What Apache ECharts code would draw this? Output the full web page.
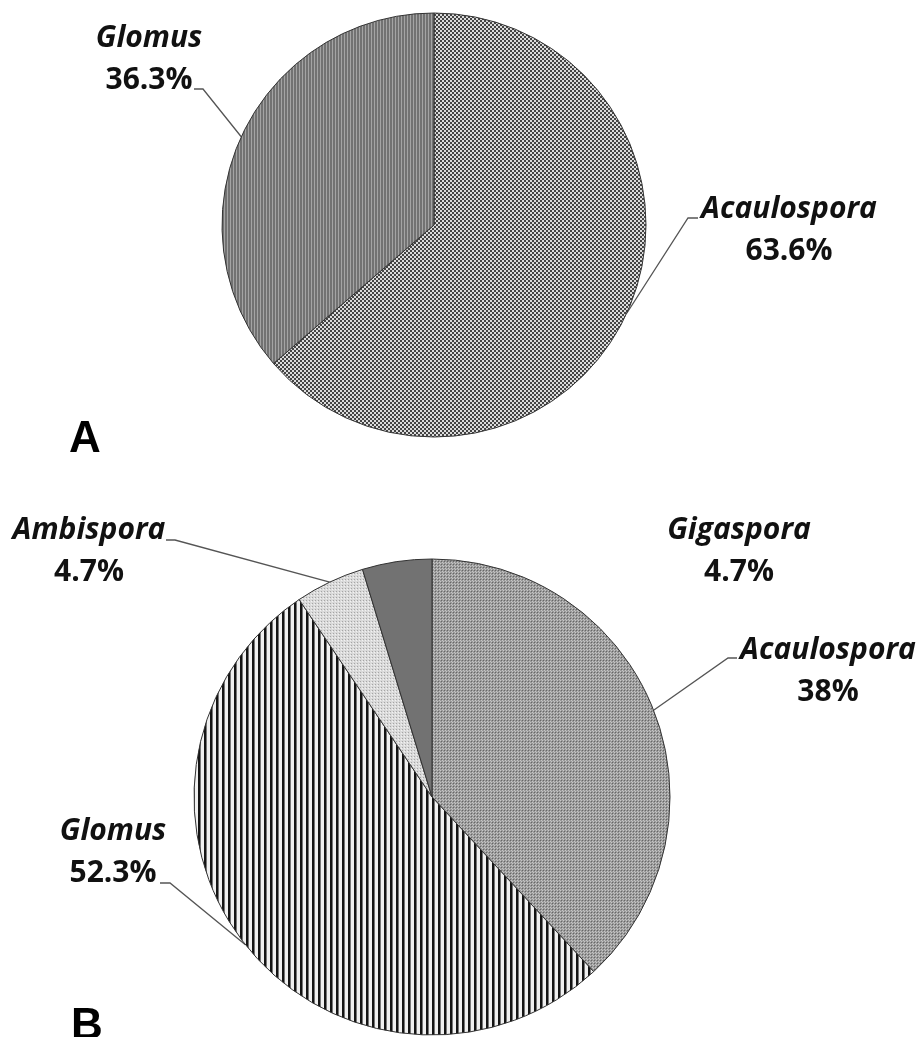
<!DOCTYPE html>
<html><head><meta charset="utf-8">
<script src="https://cdn.jsdelivr.net/npm/echarts@6/dist/echarts.min.js"></script>
<style>html,body{margin:0;padding:0;background:#fff}#c{width:921px;height:1037px}</style>
</head><body><div id="c"></div>
<script>
// ---- data ----
const panelLetters = ['A', 'B'];
const namesA = ['Acaulospora', 'Glomus'];
const valuesA = [63.6, 36.3];
const namesB = ['Acaulospora', 'Glomus', 'Ambispora', 'Gigaspora'];
const valuesB = [38, 52.3, 4.7, 4.7];

// ---- layout (positions only) ----
const pieCenters = [[434, 225], [432, 797]];
const pieRadii = [212, 238];
const labelCenters = [
  [[789, 230], [149, 59]],
  [[828, 671], [113, 852], [89, 551], [739, 551]]
];
const leaderStubs = [
  [[[688, 218], [698, 218]], [[203, 89], [194, 89]]],
  [[[728, 658], [737, 658]], [[170, 883], [160, 883]], [[175, 540], [166, 540]], null]
];

// ---- patterns ----
function makePattern(w, h, draw) {
  const c = document.createElement('canvas');
  c.width = w; c.height = h;
  const g = c.getContext('2d');
  draw(g);
  return { image: c, repeat: 'repeat' };
}
const patA_Acaul = makePattern(4, 4, g => {
  g.fillStyle = '#dcdcdc'; g.fillRect(0, 0, 4, 4);
  g.fillStyle = '#444'; g.fillRect(0, 0, 2, 2); g.fillRect(2, 2, 2, 2);
});
const patA_Glomus = makePattern(3, 3, g => {
  g.fillStyle = '#727272'; g.fillRect(0, 0, 3, 3);
  g.fillStyle = '#a4a4a4'; g.fillRect(2, 0, 1, 3);
});
const patB_Acaul = makePattern(3, 3, g => {
  g.fillStyle = '#9a9a9a'; g.fillRect(0, 0, 3, 3);
  g.fillStyle = '#666'; g.fillRect(0, 0, 1, 1);
  g.fillStyle = '#c6c6c6'; g.fillRect(1, 1, 1, 1); g.fillRect(2, 2, 1, 1);
});
const patB_Glomus = makePattern(6, 6, g => {
  g.fillStyle = '#f0f0f0'; g.fillRect(0, 0, 6, 6);
  g.fillStyle = '#141414'; g.fillRect(0, 0, 2, 6);
  g.fillStyle = '#777'; g.fillRect(2, 0, 1, 6);
});
const patB_Ambis = makePattern(3, 3, g => {
  g.fillStyle = '#dadada'; g.fillRect(0, 0, 3, 3);
  g.fillStyle = '#a5a5a5'; g.fillRect(0, 0, 1, 1);
  g.fillStyle = '#f2f2f2'; g.fillRect(2, 1, 1, 1);
});
const solidGiga = '#727272';

const fills = [[patA_Acaul, patA_Glomus], [patB_Acaul, patB_Glomus, patB_Ambis, solidGiga]];
const allValues = [valuesA, valuesB];
const allNames = [namesA, namesB];

function arcPoint(s, i) {
  const vals = allValues[s];
  const total = vals.reduce((a, b) => a + b, 0);
  let before = 0;
  for (let k = 0; k < i; k++) before += vals[k];
  const theta = (before + vals[i] / 2) / total * Math.PI * 2;
  const [cx, cy] = pieCenters[s];
  const r = pieRadii[s];
  return [cx + r * Math.sin(theta), cy - r * Math.cos(theta)];
}

const labelRich = {
  n: { fontFamily: 'Open Sans', fontStyle: 'italic', fontWeight: 'bold', fontSize: 30, color: '#111', lineHeight: 42, align: 'center' },
  p: { fontFamily: 'Open Sans', fontWeight: 'bold', fontSize: 30, color: '#111', lineHeight: 42, align: 'center' }
};

function buildSeries(s) {
  return {
    type: 'pie',
    center: pieCenters[s],
    radius: pieRadii[s],
    startAngle: 90,
    clockwise: true,
    avoidLabelOverlap: false,
    silent: true,
    animation: false,
    itemStyle: { borderColor: '#333', borderWidth: 1 },
    label: {
      show: true,
      position: 'outside',
      formatter: p => '{n|' + p.name + '}\n{p|' + p.value + '%}',
      rich: labelRich
    },
    labelLine: { show: true, lineStyle: { color: '#555', width: 1.3 } },
    labelLayout: function (params) {
      const c = labelCenters[s][params.dataIndex];
      const res = { x: c[0], y: c[1], align: 'center', verticalAlign: 'middle' };
      const stub = leaderStubs[s][params.dataIndex];
      if (stub) res.labelLinePoints = [arcPoint(s, params.dataIndex), stub[0], stub[1]];
      return res;
    },
    data: allNames[s].map((n, i) => {
      const d = { name: n, value: allValues[s][i], itemStyle: { color: fills[s][i] } };
      if (!leaderStubs[s][i]) d.labelLine = { show: false };
      return d;
    })
  };
}

const chart = echarts.init(document.getElementById('c'), null, { renderer: 'canvas' });
chart.setOption({
  backgroundColor: '#fff',
  animation: false,
  title: [
    { text: panelLetters[0], left: 64, top: 413, textStyle: { fontFamily: 'Liberation Sans', fontWeight: 'bold', fontSize: 44, color: '#000' } },
    { text: panelLetters[1], left: 66, top: 1000, textStyle: { fontFamily: 'Liberation Sans', fontWeight: 'bold', fontSize: 44, color: '#000' } }
  ],
  series: [buildSeries(0), buildSeries(1)]
});
</script></body></html>
